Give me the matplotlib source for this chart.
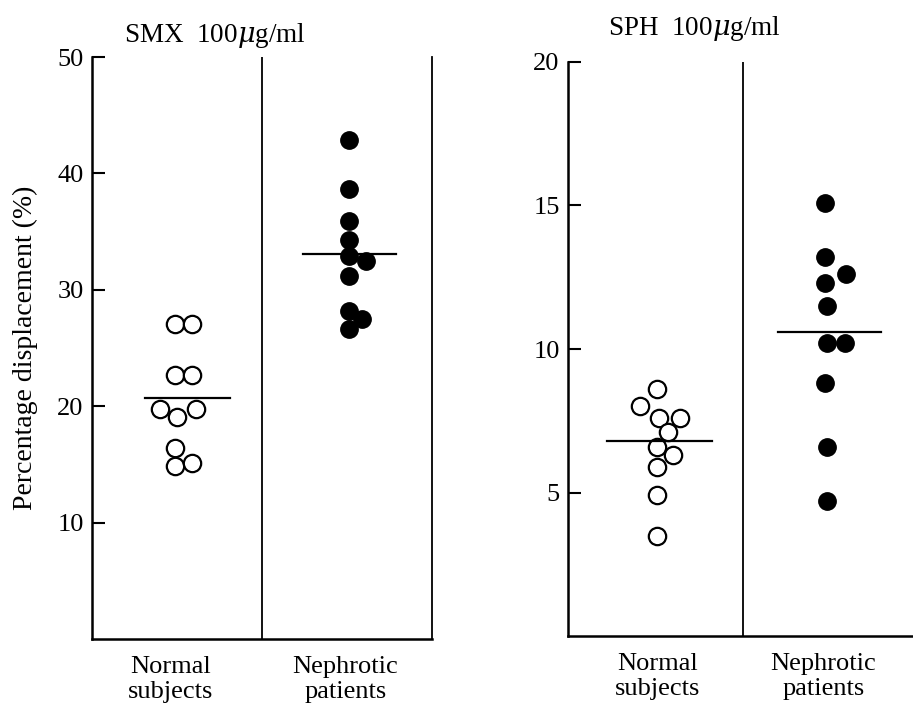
import matplotlib
matplotlib.use("Agg")
import matplotlib.pyplot as plt

plt.rcParams['font.family'] = ['Liberation Serif', 'DejaVu Serif']
plt.rcParams['mathtext.fontset'] = 'dejavuserif'

# SMX panel
smx_normal_x = [0.49, 0.59, 0.49, 0.59, 0.40, 0.50, 0.61, 0.49, 0.49, 0.59]
smx_normal_y = [27.1, 27.1, 22.7, 22.7, 19.8, 19.1, 19.8, 16.4, 14.9, 15.1]
smx_nephro_x = [1.51, 1.51, 1.51, 1.51, 1.51, 1.61, 1.51, 1.51, 1.59, 1.51]
smx_nephro_y = [42.9, 38.7, 35.9, 34.3, 32.9, 32.5, 31.2, 28.2, 27.5, 26.6]
smx_means = [20.7, 33.1]
smx_mean_span = [(0.31, 0.81), (1.24, 1.79)]
smx_ticks = [10, 20, 30, 40, 50]
smx_label_x = [0.46, 1.49]

# SPH panel
sph_normal_x = [0.51, 0.41, 0.52, 0.64, 0.57, 0.51, 0.60, 0.51, 0.51, 0.51]
sph_normal_y = [8.6, 8.0, 7.6, 7.6, 7.1, 6.6, 6.3, 5.9, 4.9, 3.5]
sph_nephro_x = [1.47, 1.47, 1.59, 1.47, 1.48, 1.48, 1.58, 1.47, 1.48, 1.48]
sph_nephro_y = [15.1, 13.2, 12.6, 12.3, 11.5, 10.2, 10.2, 8.8, 6.6, 4.7]
sph_means = [6.8, 10.6]
sph_mean_span = [(0.22, 0.82), (1.20, 1.79)]
sph_ticks = [5, 10, 15, 20]
sph_label_x = [0.51, 1.46]

group_labels = ['Normal\nsubjects', 'Nephrotic\npatients']

fig = plt.figure(figsize=(9.13, 7.04), dpi=100)


def panel(ax, nx, ny, px, py, means, spans, ticks, ymax, labx, title, title_pos, show_right):
    ax.set_xlim(0, 2)
    ax.set_ylim(0, ymax)
    ax.plot(nx, ny, 'o', ms=12.5, mfc='white', mec='black', mew=1.6, ls='none')
    ax.plot(px, py, 'o', ms=12.5, mfc='black', mec='black', ls='none')
    for m, (a, b) in zip(means, spans):
        ax.plot([a, b], [m, m], color='black', lw=1.6)
    ax.axvline(1, color='black', lw=1.3)
    for s in ['left', 'bottom']:
        ax.spines[s].set_linewidth(1.8)
    ax.spines['top'].set_visible(False)
    ax.spines['right'].set_visible(show_right)
    ax.spines['right'].set_linewidth(1.3)
    ax.set_yticks(ticks)
    ax.tick_params(axis='y', direction='in', length=9.5, width=1.5, labelsize=19, pad=6)
    ax.set_xticks(labx)
    ax.set_xticklabels(group_labels, fontsize=19, linespacing=1.2)
    ax.tick_params(axis='x', length=0, pad=12)
    ax.text(title_pos[0], title_pos[1], title, fontsize=19.5, ha='center', va='baseline',
            transform=ax.transAxes)


ax1 = fig.add_axes([92 / 913, 1 - 639 / 704, 340 / 913, 582 / 704])
panel(ax1, smx_normal_x, smx_normal_y, smx_nephro_x, smx_nephro_y, smx_means,
      smx_mean_span, smx_ticks, 50, smx_label_x, r'SMX  100$\mu$g/ml', (0.362, 1.026), True)
ax1.set_ylabel('Percentage displacement (%)', fontsize=20, labelpad=14)

ax2 = fig.add_axes([568 / 913, 1 - 636 / 704, 350 / 913, 574 / 704])
panel(ax2, sph_normal_x, sph_normal_y, sph_nephro_x, sph_nephro_y, sph_means,
      sph_mean_span, sph_ticks, 20, sph_label_x, r'SPH  100$\mu$g/ml', (0.36, 1.047), False)

fig.savefig('out.png', dpi=100)
